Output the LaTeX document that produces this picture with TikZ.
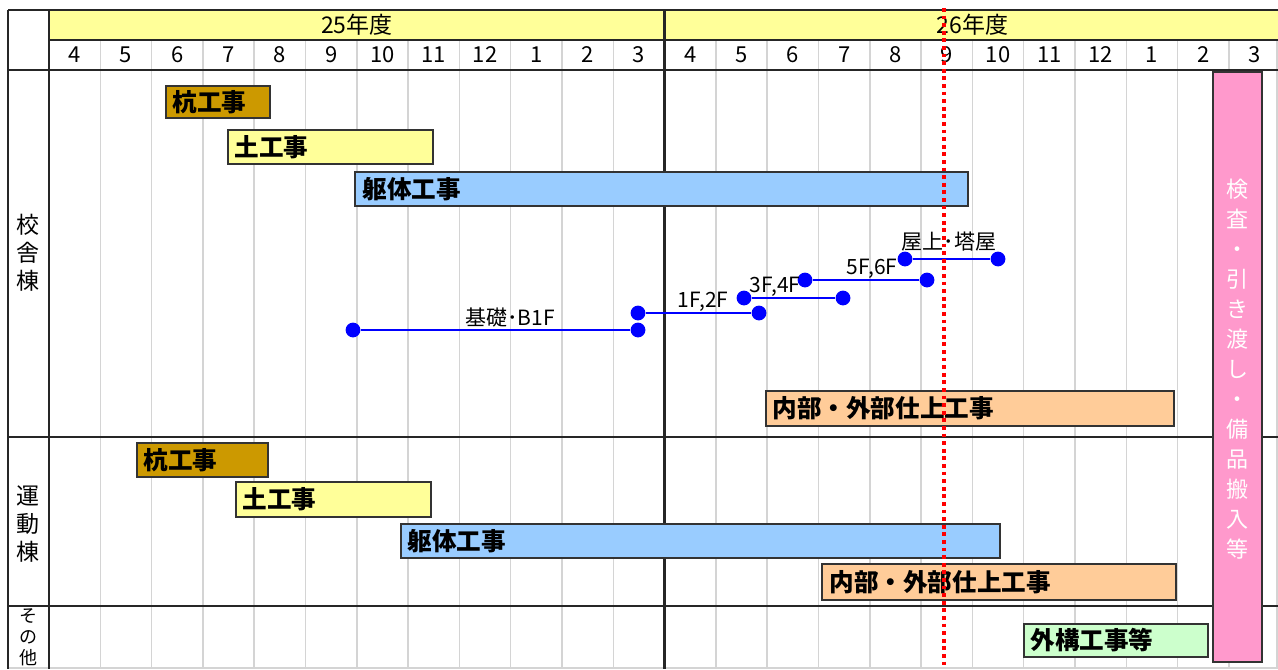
\documentclass[tikz,border=0pt]{standalone}
\usepackage{fontspec}
\setmainfont{Noto Sans CJK JP}
\usepackage{tikz}

\definecolor{hdryellow}{HTML}{FFFF99}
\definecolor{pilegold}{HTML}{CC9900}
\definecolor{earthyellow}{HTML}{FFFF99}
\definecolor{skelblue}{HTML}{99CCFF}
\definecolor{finishorange}{HTML}{FFCC99}
\definecolor{extgreen}{HTML}{CCFFCC}
\definecolor{handpink}{HTML}{FF99CC}
\definecolor{stepblue}{HTML}{0000FF}
\definecolor{gridgray}{HTML}{D4D4D4}

\begin{document}
\begin{tikzpicture}[x=0.5pt, y=-0.5pt, every node/.style={inner sep=0pt},
		gridline/.style={draw=gridgray, line width=0.75pt},
		rule/.style={draw=black!85, line width=1.25pt},
		bar/.style={draw=black!80, line width=1pt},
		barlbl/.style={anchor=west, font=\fontsize{12.3}{14}\selectfont\bfseries},
		dotnode/.style={circle, fill=stepblue, minimum size=7.4pt},
		steplbl/.style={font=\fontsize{10.5}{12}\selectfont},
		rowlbl/.style={align=center, font=\fontsize{11.5}{14}\selectfont}]
				\useasboundingbox (0,0) rectangle (1278,669);

				% Header
				\fill[hdryellow] (49,10) rectangle (1278,40);
				\node (yr25) at (356.8,25) {\fontsize{11.5}{14}\selectfont 25年度};
				\node (yr26) at (972.4,25) {\fontsize{11.5}{14}\selectfont 26年度};
				\foreach \m [count=\k from 0] in {4,5,6,7,8,9,10,11,12,1,2,3,4,5,6,7,8,9,10,11,12,1,2,3}
					\node (mon\k) at ({49+(\k+0.5)*51.3},55) {\fontsize{11}{13}\selectfont \m};

				% Grid
				\foreach \k in {1,...,11,13,14,...,23}
					\draw[gridline] ({49+\k*51.3},40) -- ({49+\k*51.3},669);
				\draw[gridline] (1277,40) -- (1277,669);
				\draw[gridline] (8,668) -- (1278,668);

				% Frame
				\draw[rule] (8,10) -- (1278,10);
				\draw[rule] (49,40) -- (1278,40);
				\draw[rule] (8,70) -- (1278,70);
				\draw[rule] (8,437) -- (1278,437);
				\draw[rule] (8,606) -- (1278,606);
				\draw[rule] (8,10) -- (8,669);
				\draw[rule] (49,10) -- (49,669);
				\draw[rule] (664.6,10) -- (664.6,669);

				% Row labels
				\node[rowlbl] (lblSchool) at (28,253) {校\\舎\\棟};
				\node[rowlbl] (lblGym) at (28,524) {運\\動\\棟};
				\node[rowlbl, font=\fontsize{9}{10.5}\selectfont] (lblOther) at (28,637) {そ\\の\\他};

				% School building
				\draw[bar, fill=pilegold] (166,86) rectangle (270,118);
				\node[barlbl] (sPile) at (172,102) {杭工事};
				\draw[bar, fill=earthyellow] (228,130) rectangle (433,164);
				\node[barlbl] (sEarth) at (234,147) {土工事};
				\draw[bar, fill=skelblue] (355,172) rectangle (968,206);
				\node[barlbl] (sSkel) at (362,189) {躯体工事};
				\draw[bar, fill=finishorange] (766,391) rectangle (1174,426);
				\node[barlbl] (sFinish) at (772,408.5) {内部・外部仕上工事};

				% Floors
				\node[dotnode] (b1a) at (353,330) {};
				\node[dotnode] (b1b) at (638,330) {};
				\node[dotnode] (f12a) at (638,313) {};
				\node[dotnode] (f12b) at (759,313) {};
				\node[dotnode] (f34a) at (744,298) {};
				\node[dotnode] (f34b) at (843,298) {};
				\node[dotnode] (f56a) at (805,280) {};
				\node[dotnode] (f56b) at (927,280) {};
				\node[dotnode] (rfa) at (905,259) {};
				\node[dotnode] (rfb) at (998,259) {};
				\draw[stepblue, line width=1pt] (b1a) -- (b1b);
				\draw[stepblue, line width=1pt] (f12a) -- (f12b);
				\draw[stepblue, line width=1pt] (f34a) -- (f34b);
				\draw[stepblue, line width=1pt] (f56a) -- (f56b);
				\draw[stepblue, line width=1pt] (rfa) -- (rfb);
				\node[steplbl] (b1lbl) at (510,318) {基礎･B1F};
				\node[steplbl] (f12lbl) at (703,302) {1F,2F};
				\node[steplbl] (f34lbl) at (775,287) {3F,4F};
				\node[steplbl] (f56lbl) at (872,269) {5F,6F};
				\node[steplbl] (rflbl) at (949,242) {屋上･塔屋};

				% Gym building
				\draw[bar, fill=pilegold] (137,443) rectangle (268,477);
				\node[barlbl] (gPile) at (143,460) {杭工事};
				\draw[bar, fill=earthyellow] (236,482) rectangle (431,517);
				\node[barlbl] (gEarth) at (242,499.5) {土工事};
				\draw[bar, fill=skelblue] (401,524) rectangle (1000,558);
				\node[barlbl] (gSkel) at (407,541) {躯体工事};
				\draw[bar, fill=finishorange] (822,564) rectangle (1176,600);
				\node[barlbl] (gFinish) at (829,582) {内部・外部仕上工事};

				% Others
				\draw[bar, fill=extgreen] (1024,624) rectangle (1208,657);
				\node[barlbl] (oExt) at (1030,640.5) {外構工事等};

				% Handover
				\draw[bar, fill=handpink] (1213,72) rectangle (1262,662);
				\node[align=center, text=white, font=\fontsize{11}{15}\selectfont] (hand) at (1237.5,369)
					{検\\査\\・\\引\\き\\渡\\し\\・\\備\\品\\搬\\入\\等};

				% Today
				\draw[red, line width=1.6pt, dash pattern=on 1.9pt off 1.9pt] (944,8) -- (944,669);
			\end{tikzpicture}
\end{document}
